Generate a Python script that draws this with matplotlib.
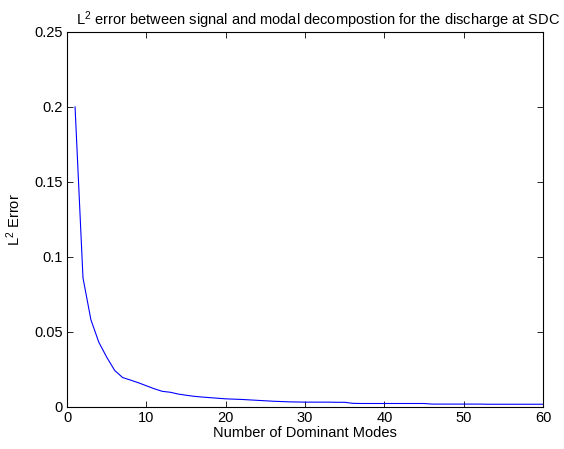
import matplotlib
matplotlib.use('Agg')
import matplotlib.pyplot as plt
from matplotlib.ticker import FuncFormatter

plt.rcParams['font.family'] = ['Liberation Sans', 'DejaVu Sans']
plt.rcParams['mathtext.fontset'] = 'custom'
plt.rcParams['mathtext.rm'] = 'Liberation Sans'
plt.rcParams['mathtext.it'] = 'Liberation Sans:italic'

# Number of dominant modes and L2 error
modes = list(range(1, 61))
l2_error = [0.200, 0.086, 0.058, 0.043, 0.033, 0.0242, 0.0195, 0.0178, 0.0160, 0.0140,
            0.0120, 0.0103, 0.0097, 0.0085, 0.0077, 0.0070, 0.0065, 0.0061, 0.0057, 0.0053,
            0.0051, 0.0049, 0.0046, 0.0043, 0.0040, 0.0037, 0.0035, 0.0033, 0.0032, 0.0031,
            0.0031, 0.0031, 0.0031, 0.0030, 0.0030, 0.0023, 0.0022, 0.0022, 0.0022, 0.0022,
            0.0022, 0.0022, 0.0022, 0.0022, 0.0022, 0.0018, 0.0018, 0.0018, 0.0018, 0.0018,
            0.0018, 0.0018, 0.0017, 0.0017, 0.0017, 0.0017, 0.0017, 0.0017, 0.0017, 0.0017]

xticks = [0, 10, 20, 30, 40, 50, 60]
yticks = [0, 0.05, 0.1, 0.15, 0.2, 0.25]

fig = plt.figure(figsize=(5.64, 4.49), dpi=100)
ax = fig.add_axes([0.119, 0.094, 0.844, 0.835])

ax.plot(modes, l2_error, color=(0, 0, 1), linewidth=0.8)

ax.set_xlim(0, 60)
ax.set_ylim(0, 0.25)
ax.set_xticks(xticks)
ax.set_yticks(yticks)
ax.yaxis.set_major_formatter(FuncFormatter(lambda v, p: '%g' % v))
ax.tick_params(direction='in', top=True, right=True, length=4, width=0.6,
               labelsize=10.5, pad=3)
for s in ax.spines.values():
    s.set_linewidth(0.8)

ax.set_title('L$^2$ error between signal and modal decompostion for the discharge at SDC',
             fontsize=10.5, x=0.527, pad=5)
ax.set_xlabel('Number of Dominant Modes', fontsize=10.5, labelpad=1)
ax.set_ylabel('L$^2$ Error', fontsize=10.5, labelpad=8)

fig.savefig('out.png', dpi=100)
